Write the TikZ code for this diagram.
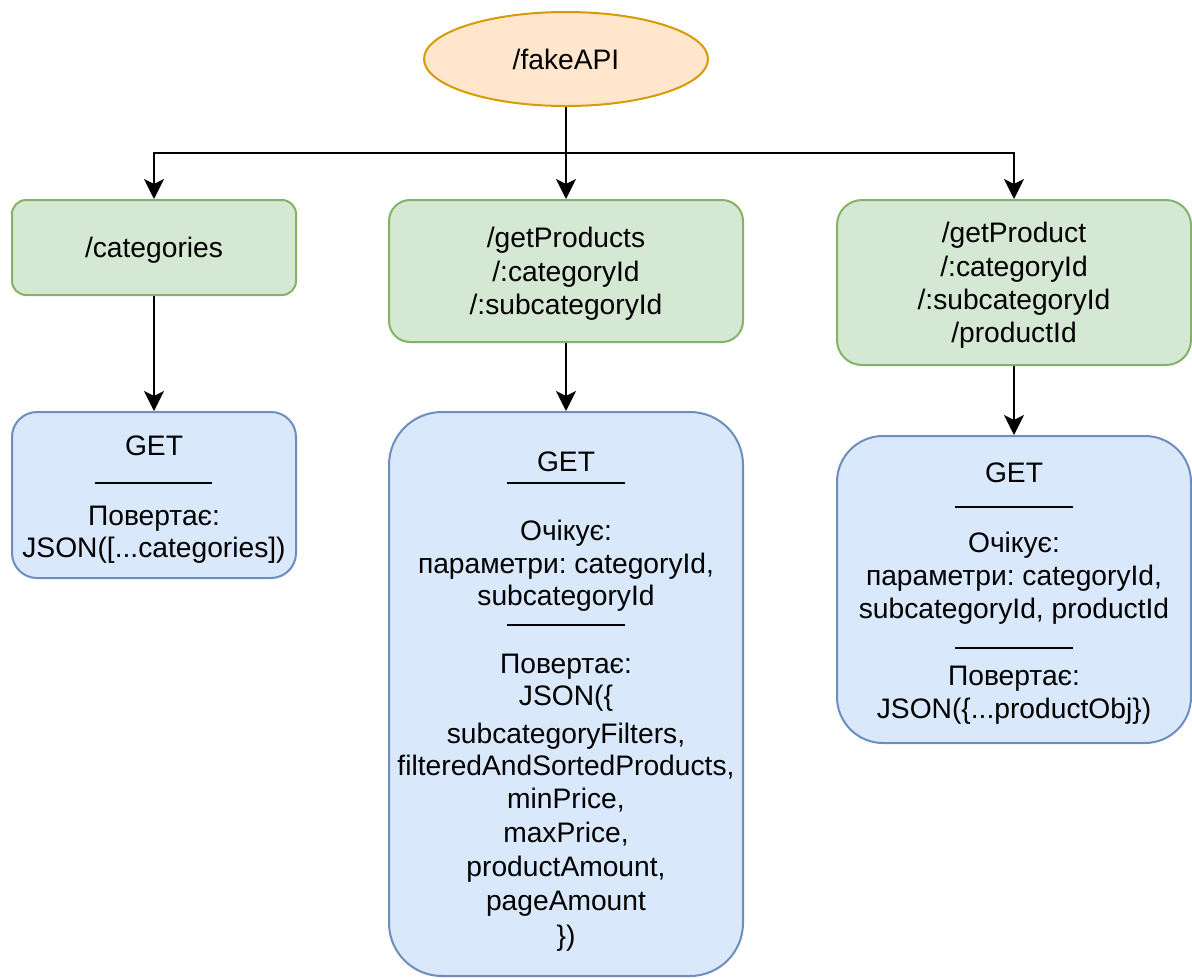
\documentclass[tikz,border=0pt]{standalone}
\usepackage{fontspec}
\setmainfont{Liberation Sans}
\usetikzlibrary{arrows.meta,shapes.geometric}
\definecolor{gfill}{HTML}{D5E8D4}
\definecolor{gstroke}{HTML}{82B366}
\definecolor{bfill}{HTML}{DAE8FC}
\definecolor{bstroke}{HTML}{6C8EBF}
\definecolor{ofill}{HTML}{FFE6CC}
\definecolor{ostroke}{HTML}{D79B00}
\begin{document}
\frenchspacing
\begin{tikzpicture}[x=1pt,y=-1pt,
  font=\fontsize{28.2}{33.3}\selectfont,
  gbox/.style={rectangle, draw=gstroke, fill=gfill, line width=2pt, inner sep=0pt},
  bbox/.style={rectangle, draw=bstroke, fill=bfill, line width=2pt, inner sep=0pt},
  txt/.style={align=center, inner sep=0pt},
  lbl/.style={anchor=base, inner sep=0pt},
  sep/.style={line width=2.2pt},
  arr/.style={line width=2.3pt, -{Stealth[length=20pt,width=20pt,inset=5pt]}}]
\useasboundingbox (0,0) rectangle (1192,978);

% root
\node[ellipse, draw=ostroke, fill=ofill, line width=2pt, minimum width=284pt, minimum height=94pt, inner sep=0pt] (api) at (566,59) {/fakeAPI};

% green boxes
\node[gbox, minimum width=284pt, minimum height=95pt, rounded corners=14pt] (cat) at (154,247.5) {};
\node[gbox, minimum width=354pt, minimum height=142pt, rounded corners=21pt] (gps) at (566,271) {};
\node[gbox, minimum width=354pt, minimum height=165pt, rounded corners=25pt] (gp) at (1014,282.5) {};
\node[txt] (catt) at (154,250.5) {/categories};
\node[txt] (gpst) at (566,274) {/getProducts\\/:categoryId\\/:subcategoryId};
\node[txt] (gpt) at (1014,285.5) {/getProduct\\/:categoryId\\/:subcategoryId\\/productId};

% blue boxes
\node[bbox, minimum width=284pt, minimum height=166pt, rounded corners=25pt] (b1) at (154,495) {};
\node[bbox, minimum width=354pt, minimum height=564pt, rounded corners=53pt] (b2) at (566,694) {};
\node[bbox, minimum width=354pt, minimum height=307pt, rounded corners=46pt] (b3) at (1014,589.5) {};

% connectors
\coordinate (hub) at (566,153);
\draw[arr] (api.south) -- (gps.north);
\draw[arr] (hub) -| (cat.north);
\draw[arr] (hub) -| (gp.north);
\draw[arr] (cat.south) -- (b1.north);
\draw[arr] (gps.south) -- (b2.north);
\draw[arr] (gp.south) -- (b3.north);

% blue box 1 text
\node[lbl] (b1a) at (154,455) {GET};
\draw[sep] (95,483) -- (212,483);
\node[lbl] (b1b) at (154,525) {Повертає:};
\node[lbl] (b1c) at (154,557) {JSON([...categories])};

% blue box 2 text
\node[lbl] (b2a) at (566,471) {GET};
\draw[sep] (507,483) -- (625,483);
\node[lbl] (b2b) at (566,540) {Очікує:};
\node[lbl] (b2c) at (566,573) {параметри: categoryId,};
\node[lbl] (b2d) at (566,605) {subcategoryId};
\draw[sep] (507,625) -- (625,625);
\node[lbl] (b2e) at (566,673) {Повертає:};
\node[lbl] (b2f) at (566,705) {JSON(\{};
\node[lbl] (b2g) at (566,743) {subcategoryFilters,};
\node[lbl] (b2h) at (566,775) {filteredAndSortedProducts,};
\node[lbl] (b2i) at (566,808) {minPrice,};
\node[lbl] (b2j) at (566,842) {maxPrice,};
\node[lbl] (b2k) at (566,876) {productAmount,};
\node[lbl] (b2l) at (566,910) {pageAmount};
\node[lbl] (b2m) at (566,945) {\})};

% blue box 3 text
\node[lbl] (b3a) at (1014,482) {GET};
\draw[sep] (955,507) -- (1073,507);
\node[lbl] (b3b) at (1014,552) {Очікує:};
\node[lbl] (b3c) at (1014,585) {параметри: categoryId,};
\node[lbl] (b3d) at (1014,618) {subcategoryId, productId};
\draw[sep] (955,648) -- (1073,648);
\node[lbl] (b3e) at (1014,685) {Повертає:};
\node[lbl] (b3f) at (1014,718) {JSON(\{...productObj\})};
\end{tikzpicture}
\end{document}
